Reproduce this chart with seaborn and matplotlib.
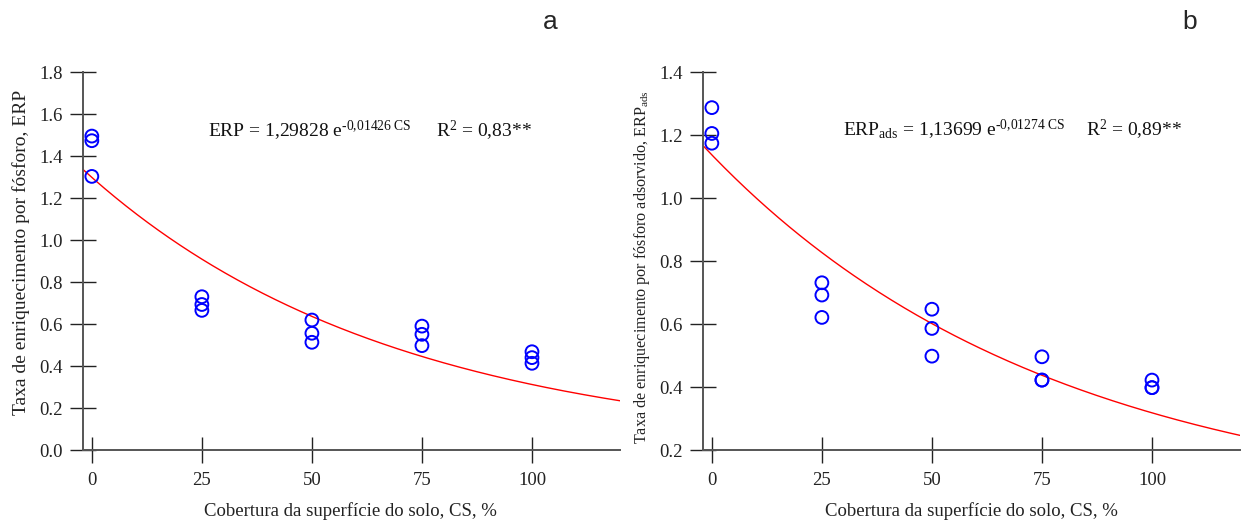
import numpy as np
import pandas as pd
import matplotlib
matplotlib.use("Agg")
import matplotlib.pyplot as plt
import seaborn as sns

# Data
cs_a = [0, 0, 0, 25, 25, 25, 50, 50, 50, 75, 75, 75, 100, 100, 100]
erp = [1.495, 1.473, 1.303, 0.730, 0.693, 0.665, 0.619, 0.556, 0.513,
       0.590, 0.551, 0.497, 0.468, 0.440, 0.413]

cs_b = [0, 0, 0, 25, 25, 25, 50, 50, 50, 75, 75, 75, 100, 100, 100]
erp_ads = [1.287, 1.205, 1.174, 0.731, 0.692, 0.621, 0.647, 0.586, 0.498,
           0.496, 0.422, 0.422, 0.422, 0.398, 0.398]

# Fitted models (coefficients printed in the chart)
coef_a = (1.29828, 0.01426)
coef_b = (1.13699, 0.01274)

xticks = [0, 25, 50, 75, 100]
yticks_a = [0.0, 0.2, 0.4, 0.6, 0.8, 1.0, 1.2, 1.4, 1.6, 1.8]
yticks_b = [0.2, 0.4, 0.6, 0.8, 1.0, 1.2, 1.4]

sns.set_style("white")
plt.rcParams["font.family"] = ["Liberation Serif", "DejaVu Serif"]
plt.rcParams["mathtext.fontset"] = "custom"
plt.rcParams["mathtext.rm"] = "Liberation Serif"
plt.rcParams["mathtext.it"] = "Liberation Serif"
plt.rcParams["mathtext.bf"] = "Liberation Serif"

fig = plt.figure(figsize=(12.43, 5.22), dpi=100)
ax_a = fig.add_axes([0.0668, 0.1379, 0.4320, 0.7241])
ax_b = fig.add_axes([0.5656, 0.1379, 0.4320, 0.7241])

xs = np.linspace(-2, 120, 300)


def draw_panel(ax, x, y, coef, ylim, yticks):
    fit = pd.DataFrame({"x": xs, "y": coef[0] * np.exp(-coef[1] * xs)})
    sns.lineplot(data=fit, x="x", y="y", ax=ax, color="red", linewidth=1.0)
    sns.scatterplot(x=x, y=y, ax=ax, marker="o", s=85, facecolor="none",
                    edgecolor="blue", linewidth=1.4, zorder=3)
    ax.set_xlim(-2, 120)
    ax.set_ylim(*ylim)
    ax.set_xticks(xticks)
    ax.set_xticklabels([str(t) for t in xticks])
    ax.set_yticks(yticks)
    ax.set_yticklabels([f"{t:.1f}" for t in yticks])
    ax.tick_params(bottom=True, left=True, direction="inout", length=18.7,
                   width=1.0, color="#222222", labelsize=13.5,
                   labelcolor="#222222")
    ax.tick_params(axis="x", pad=6.5)
    ax.tick_params(axis="y", pad=5.5)
    for side in ["top", "right"]:
        ax.spines[side].set_visible(False)
    for side in ["left", "bottom"]:
        ax.spines[side].set_color("#555555")
        ax.spines[side].set_linewidth(1.4)
    ax.set_xlabel("Cobertura da superfície do solo, CS, %", fontsize=13.5,
                  color="#222222")


draw_panel(ax_a, cs_a, erp, coef_a, (0, 1.8), yticks_a)
draw_panel(ax_b, cs_b, erp_ads, coef_b, (0.2, 1.4), yticks_b)

ax_a.set_ylabel("Taxa de enriquecimento por fósforo, ERP", fontsize=14,
                color="#222222")
ax_b.set_ylabel("Taxa de enriquecimento por fósforo adsorvido, ERP$_{\\mathrm{ads}}$",
                fontsize=11.6, color="#222222")
ax_a.yaxis.set_label_coords(-0.099, 0.5225)
ax_b.yaxis.set_label_coords(-0.095, 0.483)
ax_a.xaxis.set_label_coords(0.498, -0.137)
ax_b.xaxis.set_label_coords(0.499, -0.137)

ax_a.text(26.5, 1.49, "ERP = 1,29828 e$^{\\text{-0,01426 CS}}$",
          fontsize=14, ha="left", va="baseline", color="#111111")
ax_a.text(78.2, 1.49, "R$^{\\mathrm{2}}$ = 0,83**",
          fontsize=14, ha="left", va="baseline", color="#111111")
ax_b.text(29.8, 1.197,
          "ERP$_{\\mathrm{ads}}$ = 1,13699 e$^{\\text{-0,01274 CS}}$",
          fontsize=14, ha="left", va="baseline", color="#111111")
ax_b.text(85.1, 1.197, "R$^{\\mathrm{2}}$ = 0,89**",
          fontsize=14, ha="left", va="baseline", color="#111111")

fig.text(550 / 1243, 1 - 22 / 522, "a", fontsize=19, ha="center", va="center",
         family=["Liberation Sans", "DejaVu Sans"])
fig.text(1190 / 1243, 1 - 22 / 522, "b", fontsize=19, ha="center", va="center",
         family=["Liberation Sans", "DejaVu Sans"])

fig.savefig("out.png", dpi=100)
